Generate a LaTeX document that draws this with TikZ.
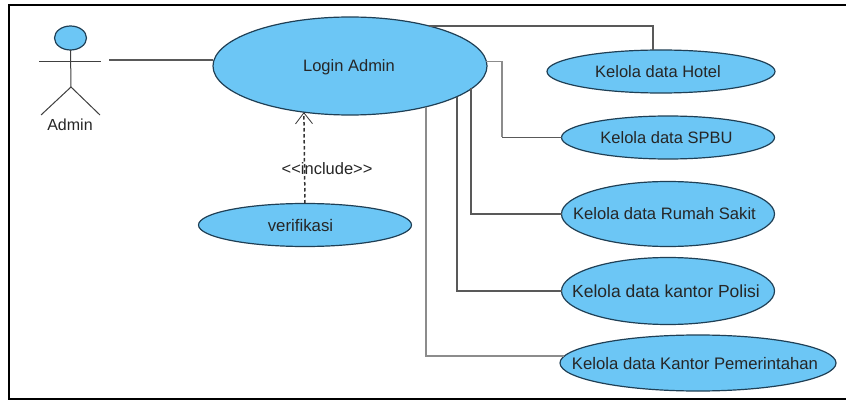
\documentclass[tikz,border=0pt]{standalone}
\usepackage{fontspec}
\setmainfont{Liberation Sans}
\usetikzlibrary{arrows.meta,shapes.geometric}
\definecolor{ucfill}{HTML}{6CC6F5}
\definecolor{ucedge}{HTML}{1F3F55}
\tikzset{
  usecase/.style={ellipse,draw=ucedge,fill=ucfill,line width=1.2pt,inner sep=0pt,outer sep=0pt,text=black!85},
  conn/.style={line width=1.4pt,draw=black!65},
  connlight/.style={line width=1.4pt,draw=black!45},
  actorline/.style={line width=1pt,draw=black!75},
  incl/.style={line width=1.5pt,draw=black!80,dash pattern=on 3.5pt off 2.5pt,-{Straight Barb[length=11pt,width=17pt,line width=0.8pt]}},
  lbl/.style={inner sep=0pt,outer sep=0pt,text=black!85}
}
\newcommand{\fs}[1]{\fontsize{#1pt}{#1pt}\selectfont}
% text that takes no room in its ellipse, so the ellipse keeps its set size
\newcommand{\ut}[2]{\hbox to 0pt{\hss\kern #1pt\smash{\raisebox{-.36em}{#2}}\hss}}
\begin{document}
\begin{tikzpicture}[x=1pt,y=-1pt]
\useasboundingbox (0,0) rectangle (846,401);
\fill[white] (0,0) rectangle (846,401);
\draw[line width=2pt,black] (846,5) -- (9,5) -- (9,399) -- (846,399);
% use cases
\node[usecase,minimum width=274pt,minimum height=98pt,font=\fs{16.5}] (login) at (350,66) {\ut{-2}{Login Admin}};
\node[usecase,minimum width=228pt,minimum height=43pt,font=\fs{16.5}] (hotel) at (661,71.5) {\ut{-6}{Kelola data Hotel}};
\node[usecase,minimum width=213pt,minimum height=43pt,font=\fs{16.5}] (spbu) at (668,137.5) {\ut{-3}{Kelola data SPBU}};
\node[usecase,minimum width=213pt,minimum height=65pt,font=\fs{16.6}] (rs) at (668,214) {\ut{-7}{Kelola data Rumah Sakit}};
\node[usecase,minimum width=213pt,minimum height=67pt,font=\fs{17.5}] (polisi) at (668,291) {\ut{-4}{Kelola data kantor Polisi}};
\node[usecase,minimum width=276pt,minimum height=56pt,font=\fs{16.7}] (pem) at (698,363) {\ut{-6}{Kelola data Kantor Pemerintahan}};
\node[usecase,minimum width=213pt,minimum height=43pt,font=\fs{16.8}] (verif) at (305,225) {\ut{-9}{verifikasi}};
% actor
\node[ellipse,draw=ucedge,fill=ucfill,line width=1.2pt,minimum width=32pt,minimum height=24pt,inner sep=0pt,outer sep=0pt] (head) at (70.5,38) {};
\coordinate (hip) at (71,87);
\coordinate (armL) at (39,62);
\coordinate (armR) at (101,62);
\coordinate (legL) at (41,115);
\coordinate (legR) at (100,115);
\draw[actorline] (head.south) -- (hip);
\draw[actorline] (armL) -- (armR);
\draw[actorline] (legL) -- (hip) -- (legR);
\node[lbl,font=\fs{16}] (admin) at (70,125) {Admin};
% connectors
\coordinate (actorend) at (109,60);
\draw[conn] (actorend) -- (login.west |- actorend);
\coordinate (b1) at (653,27);
\draw[conn] (login.27) -| (b1 |- hotel.north);
\coordinate (b2) at (502,60);
\draw[connlight] (login.2.5) -| (b2 |- spbu.west);
\draw[conn] (b2 |- spbu.west) -- (spbu.west);
\coordinate (b3) at (471,214);
\draw[conn] (b3 |- login.-10.8) -- (b3 |- rs.west) -- (rs.west);
\coordinate (b4) at (457,291);
\draw[conn] (b4 |- login.-16) -- (b4 |- polisi.west) -- (polisi.west);
\coordinate (b5) at (426,357);
\draw[connlight] (b5 |- login.-28.2) -- (b5 |- pem.177.5) -- (pem.177.5);
% include
\draw[incl] (verif.north) -- (login.225.6) node[pos=0.39,lbl,font=\fs{16.5},xshift=22.5pt,yshift=-0.5pt] (inc) {{<}{<}include{>}{>}};
\end{tikzpicture}
\end{document}
